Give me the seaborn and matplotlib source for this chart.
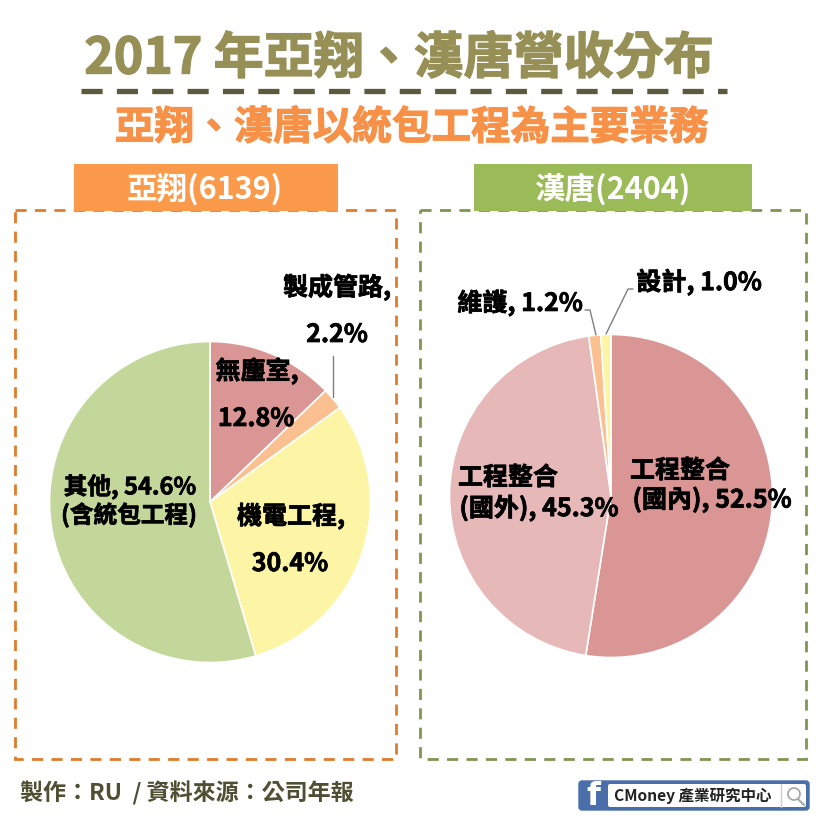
import matplotlib
matplotlib.use('Agg')
import matplotlib.pyplot as plt
import matplotlib.patheffects as pe
import seaborn as sns
from matplotlib.patches import Rectangle, FancyBboxPatch, Circle

sns.set_theme(style='white')
plt.rcParams['font.family'] = ['Noto Sans CJK TC', 'DejaVu Sans']

# 營收比重 (%)
aerowin_parts = ['無塵室', '製成管路', '機電工程', '其他']
aerowin_values = [12.8, 2.2, 30.4, 54.6]
hantang_parts = ['工程整合(國內)', '工程整合(國外)', '維護', '設計']
hantang_values = [52.5, 45.3, 1.2, 1.0]

aerowin_colors = sns.color_palette(['#DA9694', '#FAC090', '#FCF5A5', '#C4D79B'])
hantang_colors = sns.color_palette(['#DA9694', '#E6B9B8', '#FAC090', '#FCF5A5'])

W, H = 820, 820
fig = plt.figure(figsize=(8.2, 8.2), dpi=100, facecolor='white')


def draw_pie(cx, cy, r, values, colors):
    ax = fig.add_axes([(cx - r) / W, 1 - (cy + r) / H, 2 * r / W, 2 * r / H])
    ax.pie(values, colors=colors, startangle=90, counterclock=False, radius=1,
           wedgeprops={'edgecolor': 'white', 'linewidth': 1.2})
    ax.set_xlim(-1, 1)
    ax.set_ylim(-1, 1)
    ax.set_zorder(1)
    return ax


draw_pie(210, 503, 160.5, aerowin_values, aerowin_colors)
draw_pie(611, 497, 161.5, hantang_values, hantang_colors)

# 整張圖用像素座標畫裝飾跟文字
top = fig.add_axes([0, 0, 1, 1])
top.set_xlim(0, W)
top.set_ylim(H, 0)
top.axis('off')
top.patch.set_alpha(0)
top.set_zorder(2)

# 標題
title = top.text(399, 60, '2017 年亞翔、漢唐營收分布', fontsize=36, fontweight='bold',
                 color='#968F56', ha='center', va='center')
title.set_path_effects([pe.withStroke(linewidth=1, foreground='#968F56')])
top.plot([81, 727], [92, 92], color='#5B5A3C', lw=3.8, dashes=(4.0, 2.7))
sub = top.text(412, 129, '亞翔、漢唐以統包工程為主要業務', fontsize=28.5, fontweight='bold',
               color='#F79148', ha='center', va='center')
sub.set_path_effects([pe.withStroke(linewidth=0.8, foreground='#F79148')])

# 虛線框
top.add_patch(Rectangle((15, 211), 381, 549, fill=False, ec='#E07B2A', lw=2, ls=(0, (4, 3))))
top.add_patch(Rectangle((420, 211), 386, 549, fill=False, ec='#7F9650', lw=2, ls=(0, (4, 3))))

# 公司標頭
top.add_patch(Rectangle((74, 165), 264, 47, fc='#FB9A4B', ec='none', zorder=3))
top.add_patch(Rectangle((474, 165), 278, 47, fc='#9BBB59', ec='none', zorder=3))
top.text(205, 189, '亞翔(6139)', fontsize=22, fontweight='bold', color='white',
         ha='center', va='center', zorder=4)
top.text(613, 189, '漢唐(2404)', fontsize=22, fontweight='bold', color='white',
         ha='center', va='center', zorder=4)

# 左圓餅標籤
bold = [pe.withStroke(linewidth=0.5, foreground='black')]
lab = dict(fontsize=18, fontweight='bold', color='black', ha='center', va='center', path_effects=bold)
small = dict(lab, fontsize=17)
top.text(337, 288, '製成管路,', **lab)
top.text(337, 336, '2.2%', **lab)
top.text(257, 372, '無塵室,', **lab)
top.text(256, 420, '12.8%', **lab)
top.text(291, 517, '機電工程,', **lab)
top.text(290, 565, '30.4%', **lab)
top.text(130, 488, '其他, 54.6%', **small)
top.text(129, 516, '(含統包工程)', **small)

# 右圓餅標籤
top.text(699, 283, '設計, 1.0%', **lab)
top.text(520, 304, '維護, 1.2%', **lab)
top.text(508, 479, '工程整合', **lab)
top.text(539, 509, '(國外), 45.3%', **lab)
top.text(680, 472, '工程整合', **lab)
top.text(712, 501, '(國內), 52.5%', **lab)

# 引線
top.plot([333, 333], [357, 398], color='#7F7F7F', lw=1)
top.plot([585, 590, 596], [311, 311, 336], color='#7F7F7F', lw=1)
top.plot([633, 628, 606], [290, 290, 335], color='#7F7F7F', lw=1)

# 頁尾
top.text(20, 793, '製作：RU  / 資料來源：公司年報', fontsize=16.6, fontweight='bold',
         color='#4F4F33', ha='left', va='center')

top.add_patch(FancyBboxPatch((580, 783), 228, 27, boxstyle='round,pad=1,rounding_size=3',
                             fc='#4A6EA9', ec='#4A6EA9'))
top.add_patch(FancyBboxPatch((608, 785), 198, 23, boxstyle='round,pad=0,rounding_size=2',
                             fc='white', ec='none'))
top.text(593, 797, 'f', fontsize=23, fontweight='bold', color='white', ha='center', va='center',
         family=['DejaVu Sans'])
top.text(614, 796, 'CMoney 產業研究中心', fontsize=11.2, fontweight='bold', color='#222222',
         ha='left', va='center')
top.plot([781, 781], [785, 808], color='#CCCCCC', lw=1)
top.add_patch(Circle((794, 795), 6, fill=False, ec='#AAAAAA', lw=1.3))
top.plot([798, 804], [800, 806], color='#AAAAAA', lw=1.6)

fig.savefig('out.png', dpi=100)
